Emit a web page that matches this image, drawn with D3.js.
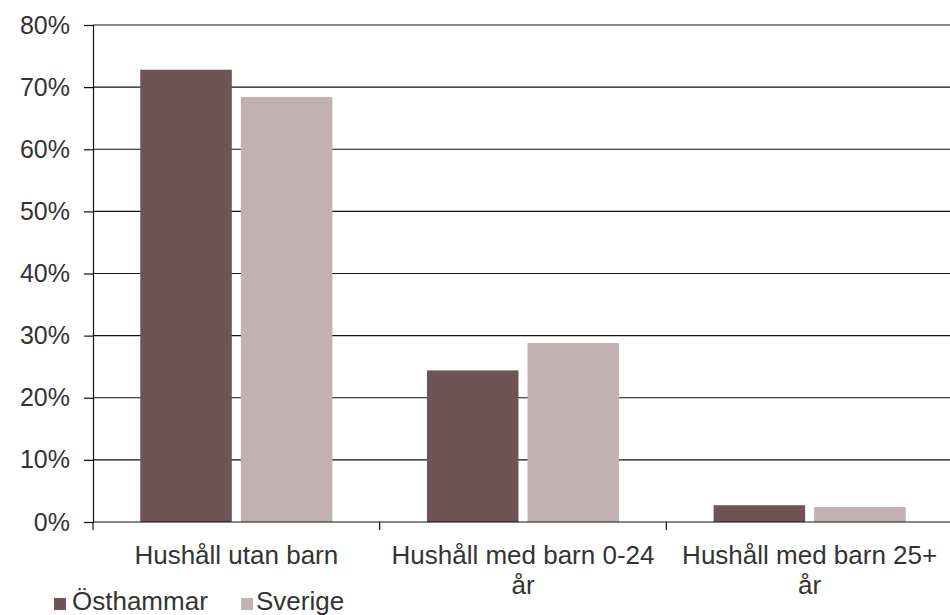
<!DOCTYPE html>
<html>
<head>
<meta charset="utf-8">
<script src="https://cdn.jsdelivr.net/npm/d3@7"></script>
<style>
  body { margin: 0; background: #fff; }
  svg { font-family: "Liberation Sans", Arial, sans-serif; }
</style>
</head>
<body>
<div id="chart"></div>
<script>
const categories = [['Hushåll utan barn'], ['Hushåll med barn 0-24', 'år'], ['Hushåll med barn 25+', 'år']]
const series = ['Östhammar', 'Sverige']
const osthammar = [0.728, 0.244, 0.027]
const sverige = [0.684, 0.288, 0.024]
const yTicks = [0, 0.1, 0.2, 0.3, 0.4, 0.5, 0.6, 0.7, 0.8]
const colors = ['#6e5456', '#c2b0b2']

function draw_chart() {
    const width = 950, height = 615
    const margins = {'left': 93, 'right': -3, 'top': 25, 'bottom': 93}

    const svg = d3.select('#chart').append('svg')
        .attr('width', width).attr('height', height)

    const x = d3.scaleBand().domain(d3.range(categories.length))
        .range([margins.left, width - margins.right])
    const inner = d3.scaleBand().domain(series).range([0, x.bandwidth()])
        .paddingInner(0.09).paddingOuter(0.47)
    const y = d3.scaleLinear().domain([0, 0.8]).range([height - margins.bottom, margins.top])

    // gridlines
    svg.append('g').selectAll('line').data(yTicks.slice(1)).join('line')
        .attr('x1', margins.left).attr('x2', width)
        .attr('y1', d => y(d)).attr('y2', d => y(d))
        .attr('stroke', '#111').attr('stroke-width', 1.2)

    const rows = categories.map((c, i) => ({'i': i, 'values': [osthammar[i], sverige[i]]}))
    svg.append('g').selectAll('g').data(rows).join('g')
        .attr('transform', d => `translate(${x(d.i)},0)`)
        .selectAll('rect').data(d => d.values.map((v, k) => ({'k': k, 'v': v}))).join('rect')
        .attr('x', d => inner(series[d.k]))
        .attr('width', inner.bandwidth())
        .attr('y', d => y(d.v))
        .attr('height', d => y(0) - y(d.v))
        .attr('fill', d => colors[d.k])

    // y axis
    const yAxis = svg.append('g').attr('transform', `translate(${margins.left},0)`)
        .call(d3.axisLeft(y).tickValues(yTicks).tickFormat(d3.format('.0%')).tickSize(9).tickPadding(14))
    yAxis.select('.domain').attr('stroke', '#111').attr('stroke-width', 1.2)
    yAxis.selectAll('.tick line').attr('stroke', '#111').attr('stroke-width', 1.2)
    yAxis.selectAll('text').attr('font-size', 25).attr('fill', '#333')
        .attr('font-family', '"Liberation Sans", Arial, sans-serif')

    // x axis
    const base = y(0)
    svg.append('line').attr('x1', margins.left).attr('x2', width)
        .attr('y1', base).attr('y2', base).attr('stroke', '#111').attr('stroke-width', 1.2)
    svg.append('g').selectAll('line').data(d3.range(categories.length + 1)).join('line')
        .attr('x1', d => margins.left + d * x.bandwidth()).attr('x2', d => margins.left + d * x.bandwidth())
        .attr('y1', base).attr('y2', base + 8)
        .attr('stroke', '#111').attr('stroke-width', 1.2)

    const labels = svg.append('g').selectAll('text').data(categories).join('text')
        .attr('x', (d, i) => x(i) + x.bandwidth() / 2)
        .attr('y', base + 42)
        .attr('text-anchor', 'middle')
        .attr('font-size', 26).attr('fill', '#333')
    labels.selectAll('tspan').data(d => d).join('tspan')
        .attr('x', function () { return this.parentNode.getAttribute('x') })
        .attr('dy', (d, k) => k === 0 ? 0 : 30)
        .text(d => d)

    // legend
    const legendX = [54, 241]
    const legend = svg.append('g').selectAll('g').data(series).join('g')
        .attr('transform', (d, i) => `translate(${legendX[i]},${height - 5})`)
    legend.append('rect').attr('x', 0).attr('y', -12).attr('width', 12).attr('height', 12)
        .attr('fill', (d, i) => colors[i])
    legend.append('text').attr('x', (d, i) => i === 0 ? 18 : 15).attr('y', 0)
        .attr('font-size', 26).attr('fill', '#333').text(d => d)
}

draw_chart()
</script>
</body>
</html>
